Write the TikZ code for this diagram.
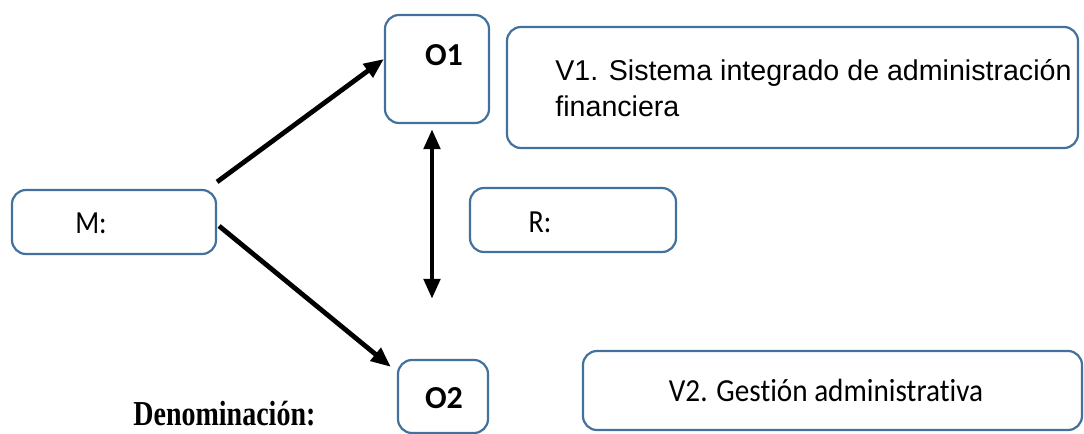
\documentclass[tikz,border=0pt]{standalone}
\usepackage{graphicx}
\usepackage{fontspec}
\setmainfont{Carlito}[Ligatures=NoCommon]
\newfontfamily\arialfont{Liberation Sans}
\newfontfamily\timesfont{Liberation Serif}
\usetikzlibrary{arrows.meta,calc,positioning}
\definecolor{boxblue}{HTML}{41719C}
% texto algo mas alto que ancho
\newcommand\estirado[2][1.15]{\scalebox{1}[#1]{#2}}

\tikzset{
  caja/.style={draw=boxblue,line width=1.1pt,rounded corners=7pt,inner sep=0pt},
  lbl/.style={inner sep=0pt,font=\fontsize{14}{16}\selectfont},
  negrita/.style={lbl,font=\fontsize{16}{18}\selectfont\bfseries},
  flecha/.style={line width=2.4pt,-{Triangle[length=10pt,width=8pt]}},
  doble/.style={line width=2.4pt,{Triangle[length=10pt,width=8pt]}-{Triangle[length=10pt,width=8pt]}}
}

\begin{document}
\begin{tikzpicture}[x=0.5pt,y=-0.5pt]
  \useasboundingbox (0,0) rectangle (1084,434);
  \clip (0,0) rectangle (1084,434);
  % cajas
  \node[caja,minimum width=52pt,minimum height=54pt] (O1) at (437,69) {};
  \node[caja,minimum width=285.5pt,minimum height=60.5pt] (V1) at (792.5,87.5) {};
  \node[caja,minimum width=102pt,minimum height=32pt] (M) at (114,222) {};
  \node[caja,minimum width=103pt,minimum height=32pt] (R) at (573,220) {};
  \node[caja,minimum width=45pt,minimum height=36.5pt] (O2) at (443,396.5) {};
  \node[caja,minimum width=249.5pt,minimum height=39.5pt] (V2) at (832.5,390.5) {};
  % textos
  \node[negrita] (O1t) at (444,55) {O1};
  \node[negrita] (O2t) at (444,398) {O2};
  \node[lbl] (Mt) at (91,223) {\estirado{M:}};
  \node[lbl] (Rt) at (540,222) {\estirado{R:}};
  \node[lbl,font=\fontsize{14.6}{16}\selectfont] (V2t) at (826,390) {\estirado[1.1]{V2. Gestión administrativa}};
  \node[lbl,anchor=north west,align=left,font=\arialfont\fontsize{14.3}{18}\selectfont] (V1t) at (555,59)
    {V1. Sistema integrado de administración\\financiera};
  \node[lbl,anchor=base west,font=\timesfont\bfseries\fontsize{14}{16}\selectfont] (den) at (133,425)
    {\estirado[1.25]{Denominación:}};
  % flechas
  \draw[flecha] ([yshift=3.5pt]M.north east) -- ([yshift=5pt]O1.west);
  \draw[flecha] ([xshift=1pt,yshift=-2pt]M.east) -- ([xshift=-3pt,yshift=-4pt]O2.north west);
  \coordinate (abajo) at ([xshift=-5.5pt,yshift=30pt]O2.north);
  \draw[doble] ([xshift=-2.5pt,yshift=-2.5pt]O1.south) -- (abajo);
\end{tikzpicture}
\end{document}
